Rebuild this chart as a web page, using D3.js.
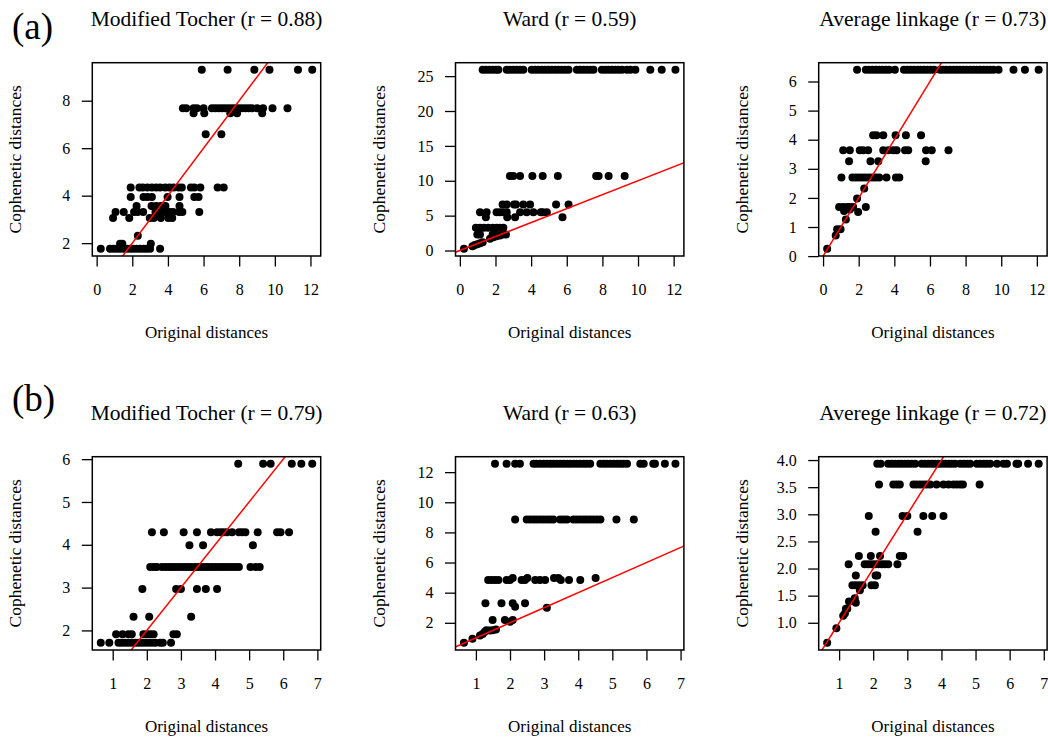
<!DOCTYPE html>
<html>
<head>
<meta charset="utf-8">
<script src="https://cdn.jsdelivr.net/npm/d3@7"></script>
<style>
  body { margin: 0; background: #fff; }
  svg { display: block; font-family: "Liberation Serif", "Times New Roman", serif; }
</style>
</head>
<body>
<svg id="chart" width="1048" height="738"></svg>
<script>
// each row: [cophenetic level, [original distances at that level]]
const tocherA = [
  [9.3, [5.9, 7.35, 8.85, 9.7, 11.3, 12.1]],
  [7.68, [4.84, 5.03, 5.44, 5.63, 6.0, 6.47, 6.66, 6.85, 7.04, 7.22, 7.41, 7.6, 7.79, 7.97, 8.16, 8.35, 8.54, 8.72, 9.01, 9.34, 9.87, 10.71]],
  [7.47, [5.44, 6.04, 7.5, 7.88, 9.29]],
  [6.59, [6.12, 7.0]],
  [4.34, [1.91, 2.4, 2.59, 2.85, 3.1, 3.34, 3.56, 3.85, 4.09, 4.32, 4.6, 4.78, 5.29, 5.48, 5.82, 6.79, 7.13]],
  [3.94, [1.91, 2.63, 2.85, 3.1, 3.98, 4.65, 5.48, 5.72]],
  [3.56, [2.24, 3.08, 3.34, 3.6, 3.86, 4.65]],
  [3.31, [1.06, 1.52, 2.1, 2.3, 2.61, 3.3, 3.5, 3.73, 3.92, 4.1, 4.29, 4.63, 4.81, 5.76]],
  [3.06, [0.92, 1.83, 2.98, 3.2, 3.6, 4.02, 4.24]],
  [2.31, [2.31]],
  [1.97, [1.31, 1.44, 3.04]],
  [1.76, [0.23, 0.75, 0.94, 1.13, 1.31, 1.5, 1.69, 1.88, 2.06, 2.25, 2.44, 2.63, 2.81, 3.0, 3.56]]
];
const wardA = [
  [25.9, [1.28, 1.46, 1.65, 1.84, 2.03, 2.16, 2.63, 2.81, 3.0, 3.19, 3.38, 3.56, 4.03, 4.22, 4.41, 4.6, 4.78, 4.97, 5.16, 5.35, 5.53, 5.72, 5.91, 6.1, 6.57, 6.75, 6.94, 7.13, 7.32, 7.5, 7.97, 8.16, 8.35, 8.54, 8.72, 8.91, 9.1, 9.38, 9.57, 9.85, 10.69, 11.33, 12.1]],
  [10.67, [2.81, 3.0, 3.38, 4.07, 4.65, 5.5, 7.65, 7.79, 8.35, 9.25]],
  [6.6, [2.4, 2.63, 3.04, 3.15, 3.56, 3.94, 5.4, 6.1]],
  [5.5, [1.13, 1.5, 2.06, 2.25, 2.44, 2.63, 3.38, 3.75, 4.13, 4.54, 4.65, 4.88]],
  [4.78, [1.46, 2.66, 3.1, 5.76]],
  [3.25, [0.9, 1.13, 1.35, 1.59, 1.84, 2.06, 2.25, 2.44]],
  [2.3, [0.98, 1.13, 1.84, 2.03, 2.4, 2.59]],
  [0.24, [0.23]], [0.62, [0.71]], [0.8, [0.84]], [0.9, [0.98]], [1.05, [1.13]], [1.2, [1.28]],
  [1.67, [1.69]], [1.9, [1.88]], [2.05, [2.06]], [2.15, [2.25]]
];
const averageA = [
  [6.4, [1.91, 2.4, 2.59, 2.78, 2.96, 3.15, 3.34, 3.53, 3.71, 4.03, 4.54, 4.73, 4.92, 5.1, 5.29, 5.48, 5.67, 5.85, 6.04, 6.23, 6.57, 6.75, 6.94, 7.13, 7.32, 7.5, 7.69, 7.88, 8.07, 8.26, 8.44, 8.63, 8.82, 9.01, 9.19, 9.38, 9.57, 9.85, 10.69, 11.33, 12.1]],
  [4.15, [2.81, 3.0, 3.38, 4.07, 4.65, 5.5]],
  [3.64, [1.13, 1.5, 2.06, 2.25, 2.53, 3.38, 3.66, 3.94, 4.13, 4.6, 4.78, 5.78, 6.1, 7.04]],
  [3.26, [1.46, 2.66, 3.1, 5.76]],
  [2.7, [1.03, 1.65, 1.84, 2.03, 2.21, 2.4, 2.59, 2.78, 2.96, 3.15, 3.56, 4.09, 4.28]],
  [2.32, [2.31]],
  [1.98, [1.91]],
  [1.69, [0.9, 1.13, 1.35, 1.5, 1.69, 2.4]],
  [1.55, [1.18]], [1.52, [1.97]], [1.6, [1.5]],
  [0.25, [0.23]], [0.71, [0.71]], [0.92, [0.79, 0.98]], [1.26, [1.28]]
];
const tocherB = [
  [5.89, [4.68, 5.41, 5.63, 6.25, 6.53, 6.85]],
  [4.29, [2.15, 2.5, 3.08, 3.47, 3.88, 4.06, 4.16, 4.25, 4.35, 4.5, 4.7, 4.79, 4.89, 5.25, 5.82, 5.92, 6.17]],
  [3.99, [3.25, 3.65, 5.11]],
  [3.48, [2.1, 2.2, 2.29, 2.44, 2.54, 2.64, 2.74, 2.83, 2.93, 3.03, 3.13, 3.23, 3.32, 3.42, 3.52, 3.62, 3.72, 3.81, 3.91, 4.01, 4.11, 4.21, 4.3, 4.4, 4.5, 4.6, 4.7, 5.04, 5.19, 5.31]],
  [2.97, [1.87, 2.86, 3.0, 3.47, 3.73, 4.06]],
  [2.32, [1.61, 2.07, 3.3]],
  [1.91, [1.1, 1.29, 1.46, 1.56, 1.9, 2.0, 2.1, 2.2, 2.78, 2.88]],
  [1.71, [0.65, 0.9, 1.17, 1.26, 1.36, 1.46, 1.56, 1.66, 1.75, 1.85, 1.95, 2.05, 2.15, 2.25, 2.39, 2.47, 2.71]]
];
const wardB = [
  [12.55, [1.56, 1.9, 2.15, 2.29, 2.69, 2.78, 2.88, 2.98, 3.08, 3.18, 3.27, 3.37, 3.47, 3.57, 3.67, 3.76, 3.86, 3.96, 4.06, 4.16, 4.25, 4.35, 4.65, 4.75, 4.84, 4.94, 5.04, 5.14, 5.24, 5.33, 5.43, 5.82, 5.92, 6.2, 6.25, 6.54, 6.85]],
  [8.85, [2.15, 2.49, 2.59, 2.69, 2.78, 2.88, 2.98, 3.08, 3.18, 3.27, 3.47, 3.57, 3.67, 3.86, 3.96, 4.06, 4.16, 4.25, 4.35, 4.45, 4.55, 4.65, 5.12, 5.63]],
  [4.98, [2.08, 2.51, 3.29, 3.42, 4.51]],
  [4.84, [1.36, 1.46, 1.56, 1.66, 1.9, 2.0, 2.34, 2.44, 2.74, 2.88, 3.03, 3.49, 3.73, 4.06]],
  [3.29, [1.28, 1.75, 2.08, 2.44]],
  [3.06, [2.15]],
  [3.0, [3.08]],
  [2.18, [1.49, 1.85, 2.08]],
  [2.07, [2.0]],
  [0.67, [0.65]], [0.94, [0.9]], [1.16, [1.12]], [1.25, [1.2]], [1.4, [1.26]],
  [1.51, [1.31]], [1.49, [1.41]], [1.5, [1.49]], [1.56, [1.59]]
];
const averageB = [
  [3.93, [2.12, 2.22, 2.44, 2.54, 2.64, 2.74, 2.83, 2.93, 3.03, 3.13, 3.23, 3.42, 3.52, 3.62, 3.72, 3.81, 3.91, 4.01, 4.11, 4.21, 4.3, 4.4, 4.55, 4.65, 4.75, 4.84, 5.04, 5.14, 5.24, 5.33, 5.43, 5.63, 5.82, 5.92, 6.2, 6.25, 6.54, 6.85]],
  [3.55, [2.17, 2.59, 2.69, 2.78, 3.18, 3.27, 3.37, 3.47, 3.57, 3.67, 3.86, 4.06, 4.21, 4.35, 4.45, 4.55, 4.63, 5.12]],
  [2.97, [1.87, 2.86, 3.0, 3.47, 3.73, 4.06]],
  [2.68, [2.07, 3.3]],
  [2.23, [1.58, 1.93, 2.2, 2.78, 2.88]],
  [2.08, [1.28, 1.75, 1.85, 1.95, 2.05, 2.15, 2.25, 2.34, 2.44, 2.71]],
  [1.87, [1.49, 2.07, 2.12]],
  [1.69, [1.39, 1.49, 1.59, 1.69, 1.95, 2.05]],
  [1.6, [1.61]],
  [1.45, [1.46]], [1.39, [1.29]], [1.37, [1.49]], [1.26, [1.2, 1.24]],
  [1.13, [1.12]], [1.17, [1.17]], [0.9, [0.92]], [0.63, [0.65]]
];

const titles = ["Modified Tocher (r = 0.88)", "Ward (r = 0.59)", "Average linkage (r = 0.73)",
                "Modified Tocher (r = 0.79)", "Ward (r = 0.63)", "Averege linkage (r = 0.72)"];
const panelLetters = ["(a)", "(b)"];
const xTicksA = [0, 2, 4, 6, 8, 10, 12];
const xTicksB = [1, 2, 3, 4, 5, 6, 7];
const yTicks = [
  [2, 4, 6, 8],
  [0, 5, 10, 15, 20, 25],
  [0, 1, 2, 3, 4, 5, 6],
  [2, 3, 4, 5, 6],
  [2, 4, 6, 8, 10, 12],
  [1.0, 1.5, 2.0, 2.5, 3.0, 3.5, 4.0]
];

const panels = [tocherA, wardA, averageA, tocherB, wardB, averageB];

const svg = d3.select('#chart');
const W = 228.4, H = 193.3;

// R style range: data extent widened by 4% on each side
function padded(ext) {
  const d = (ext[1] - ext[0]) * 0.04;
  return [ext[0] - d, ext[1] + d];
}

panels.forEach((rows, i) => {
  const col = i % 3, row = Math.floor(i / 3);
  const L = 92.3 + col * 363.2;
  const T = 62.7 + row * 394;
  const pts = [];
  rows.forEach(r => r[1].forEach(x => pts.push([x, r[0]])));

  const x = d3.scaleLinear().domain(padded(d3.extent(pts, d => d[0]))).range([0, W]);
  const y = d3.scaleLinear().domain(padded(d3.extent(pts, d => d[1]))).range([H, 0]);

  const g = svg.append('g').attr('transform', 'translate(' + L + ',' + T + ')');

  g.append('clipPath').attr('id', 'clip' + i)
    .append('rect').attr('width', W).attr('height', H);

  // points
  g.append('g').selectAll('circle').data(pts).enter().append('circle')
    .attr('cx', d => x(d[0])).attr('cy', d => y(d[1]))
    .attr('r', 4).attr('fill', '#000');

  // 1:1 reference line
  const lo = Math.min(x.domain()[0], y.domain()[0]);
  const hi = Math.max(x.domain()[1], y.domain()[1]);
  g.append('line')
    .attr('clip-path', 'url(#clip' + i + ')')
    .attr('x1', x(lo)).attr('y1', y(lo)).attr('x2', x(hi)).attr('y2', y(hi))
    .attr('stroke', '#ff0000').attr('stroke-width', 1.5);

  // axes
  const fmt = i === 5 ? d3.format('.1f') : d3.format('d');
  const xa = g.append('g').attr('transform', 'translate(0,' + H + ')')
    .call(d3.axisBottom(x).tickValues(row === 0 ? xTicksA : xTicksB)
      .tickSize(10.5).tickSizeOuter(0).tickPadding(17).tickFormat(d3.format('d')));
  const ya = g.append('g')
    .call(d3.axisLeft(y).tickValues(yTicks[i])
      .tickSize(10.5).tickSizeOuter(0).tickPadding(11.5).tickFormat(fmt));
  [xa, ya].forEach(a => {
    a.attr('font-family', null).attr('font-size', null);
    a.selectAll('text').attr('font-size', 16).attr('fill', '#000');
    a.selectAll('line').attr('stroke-width', 1.3);
    a.select('.domain').remove();
  });

  // box
  g.append('rect').attr('width', W).attr('height', H)
    .attr('fill', 'none').attr('stroke', '#000').attr('stroke-width', 1.5);

  // titles
  g.append('text').attr('x', W / 2).attr('y', -37).attr('text-anchor', 'middle')
    .attr('font-size', 21.5).text(titles[i]);
  g.append('text').attr('x', W / 2).attr('y', H + 82).attr('text-anchor', 'middle')
    .attr('font-size', 17).text('Original distances');
  g.append('text').attr('transform', 'translate(-71,' + (H / 2) + ') rotate(-90)')
    .attr('text-anchor', 'middle').attr('font-size', 17.5).text('Cophenetic distances');
});

svg.append('text').attr('x', 12).attr('y', 38.5).attr('font-size', 37).text(panelLetters[0]);
svg.append('text').attr('x', 12).attr('y', 411).attr('font-size', 37).text(panelLetters[1]);
</script>
</body>
</html>
